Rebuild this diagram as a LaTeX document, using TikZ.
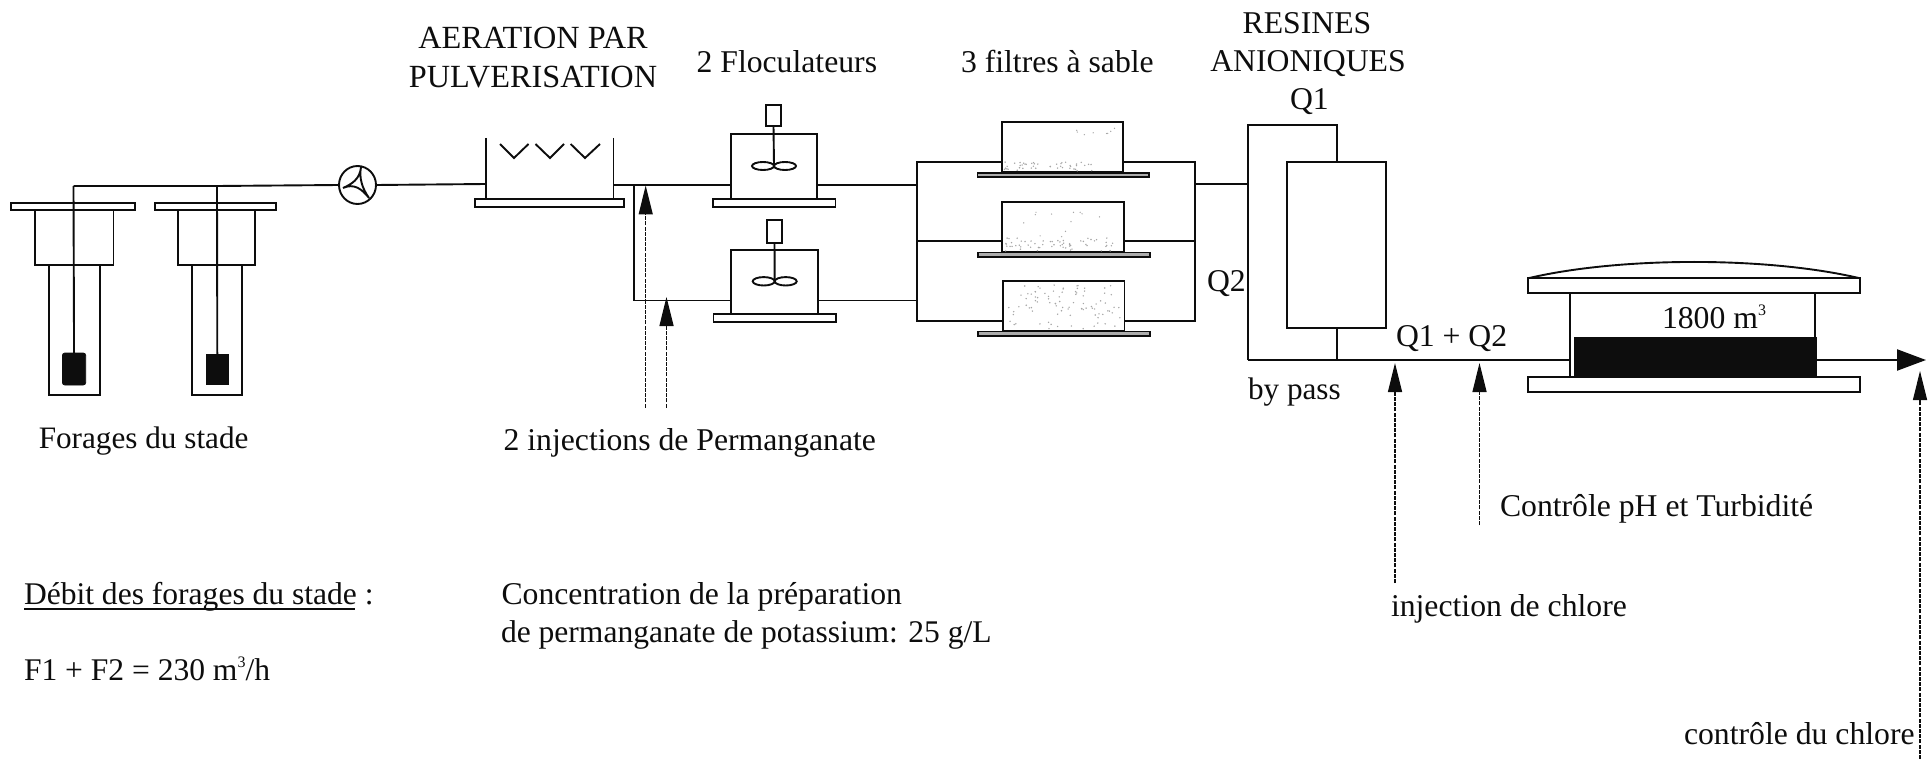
\documentclass[tikz,border=0pt]{standalone}
\usepackage{fontspec}
\setmainfont{Liberation Serif}
\usetikzlibrary{arrows.meta,shapes.geometric,calc}
\definecolor{ink}{gray}{0.05}
\newcommand\cube{\raisebox{12.5pt}{\fontsize{16}{16}\selectfont 3}}
\tikzset{
  eq/.style={draw=ink,rectangle,inner sep=0pt,outer sep=0pt,line width=1.9pt,fill=white},
  thinbase/.style={eq,fill=gray!65},
  solidblock/.style={draw=ink,fill=ink,rectangle,inner sep=0pt,outer sep=0pt,line width=0.8pt},
  roundblock/.style={solidblock,rounded corners=2.5pt},
  pipe/.style={draw=ink,line width=1.9pt,line join=miter},
  dosing/.style={draw=ink,line width=1.3pt,dash pattern=on 4pt off 1.2pt,
    -{Triangle[length=29pt,width=14pt]}},
  outflow/.style={draw=ink,line width=2.3pt,-{Triangle[length=29pt,width=21pt]}},
  lbl/.style={anchor=base west,inner sep=0pt,outer sep=0pt,text=ink,font=\fontsize{31.7}{38}\selectfont},
  lblc/.style={lbl,anchor=base},
  sand/.style={fill=gray!70}
}
\newcommand\bx[6][eq]{\node[#1,minimum width={(#5-#3)*1pt},minimum height={(#6-#4)*1pt}] (#2) at ({(#3+#5)/2},{(#4+#6)/2}) {};}
\begin{document}
\begin{tikzpicture}[x=1pt,y=-1pt]
\useasboundingbox (0,0) rectangle (1930,759);
% coordinates for junctions
\coordinate (w1top) at (73.5,186);
\coordinate (w2top) at (217,186);
\coordinate (aerTL) at (486,138);
\coordinate (aerBL) at (486,199);
\coordinate (aerTR) at (613.5,138);
\coordinate (aerBR) at (613.5,199);
\coordinate (aerIn) at (486,184);
\coordinate (aerOut) at (613.5,185);
\coordinate (split) at (634,185);
\coordinate (splitLow) at (634,300.5);
\coordinate (hdLT) at (917,162.3);
\coordinate (hdLB) at (917,321);
\coordinate (hdRT) at (1195,162.3);
\coordinate (hdRB) at (1195,321);
\coordinate (hdOut) at (1195,183.7);
\coordinate (resTL) at (1248.3,125);
\coordinate (resTR) at (1336.7,125);
\coordinate (resBL) at (1248.3,360);
\coordinate (resBM) at (1336.7,360);
\coordinate (resIn) at (1248.3,183.7);

% wells
\bx[eq]{wa}{49}{265}{99.6}{395}
\bx[eq]{wb}{34.7}{210}{113.5}{265}
\bx[eq]{wc}{11.4}{203}{135}{210}
\bx[roundblock]{wd}{62.4}{353}{85.7}{385}
\bx[eq]{xa}{192}{265}{241.6}{395}
\bx[eq]{xb}{178}{210}{255}{265}
\bx[eq]{xc}{155}{203}{276}{210}
\bx[solidblock]{xd}{206}{354}{228.6}{384}
\draw[pipe] (wd.north) -- (w1top);
\draw[pipe] (xd.north) -- (w2top);
% pump
\node[ellipse,draw=ink,line width=1.9pt,fill=white,inner sep=0pt,outer sep=0pt,minimum width=37pt,minimum height=38pt] (pump) at (357.5,185) {};
\draw[pipe] (361,167) .. controls (360,179) and (352,184) .. (343,188)
   .. controls (354,183) and (362,189) .. (369,198)
   .. controls (362,188) and (359,178) .. (361,167);
\draw[pipe] (w1top) -- (w2top) -- (pump.west);
\draw[pipe] (pump.east) -- (aerIn);
% aeration
\bx[eq]{aerbase}{475}{199}{624}{207}
\draw[pipe] (aerTL) -- (aerBL);
\draw[pipe] (aerTR) -- (aerBR);
\draw[pipe] (500,144) -- (514,158) -- (528.5,144);
\draw[pipe] (535.5,144) -- (550,158) -- (564,144);
\draw[pipe] (570.6,144) -- (585,158) -- (600,144);
% mixers
\bx[eq]{mixa}{730.6}{133.7}{817}{199}
\bx[eq]{mixab}{712.7}{199}{835.5}{207}
\bx[eq]{mota}{766}{104.7}{781}{126}
\bx[eq]{mixb}{731.4}{249.7}{818}{314}
\bx[eq]{mixbb}{713.5}{314}{836}{321.7}
\bx[eq]{motb}{767}{220}{782}{243}
\coordinate (huba) at (774,166);
\coordinate (hubb) at (774.7,281.3);
\draw[pipe] (mota.south) -- (huba);
\draw[pipe] (motb.south) -- (hubb);
\draw[pipe] (763,166) ellipse (11pt and 4pt);
\draw[pipe] (785,166) ellipse (11pt and 4pt);
\draw[pipe] (763.7,281.3) ellipse (11pt and 4.2pt);
\draw[pipe] (785.7,281.3) ellipse (11pt and 4.2pt);
\draw[pipe] (aerOut) -- (split) -- (split -| mixa.west);
\draw[pipe] (split) -- (splitLow) -- (splitLow -| mixb.west);
\draw[pipe] (mixa.east |- split) -- (split -| hdLT);
\draw[pipe] (mixb.east |- splitLow) -- (splitLow -| hdLT);
% filters
\bx[eq]{fa}{1001.6}{122.3}{1123}{172}
\bx[thinbase]{fab}{977.5}{173}{1149}{176.7}
\bx[eq]{fb}{1002}{202}{1123.7}{252.3}
\bx[thinbase]{fbb}{978}{252.5}{1150}{256.7}
\bx[eq]{fc}{1003}{281.3}{1124.5}{330.7}
\bx[thinbase]{fcb}{978}{331.5}{1150}{336}
\draw[pipe] (fa.west |- hdLT) -- (hdLT) -- (hdLB) -- (fc.west |- hdLB);
\draw[pipe] (fa.east |- hdRT) -- (hdRT) -- (hdRB) -- (fc.east |- hdRB);
\draw[pipe] (hdLT |- 0,241.3) -- (fb.west |- 0,241.3);
\draw[pipe] (fb.east |- 0,241.3) -- (hdRT |- 0,241.3);
% sand
\pgfmathsetseed{11}
\foreach \i in {1,...,45}{\fill[sand] ({1004+rnd*90},{162+rnd*9}) circle (0.8pt);}
\foreach \i in {1,...,8}{\fill[sand] ({1065+rnd*50},{128+rnd*8}) circle (0.7pt);}
\foreach \i in {1,...,60}{\fill[sand] ({1005+rnd*115},{238+rnd*13}) circle (0.8pt);}
\foreach \i in {1,...,12}{\fill[sand] ({1020+rnd*100},{212+rnd*25}) circle (0.7pt);}
\foreach \i in {1,...,90}{\fill[sand] ({1006+rnd*115},{285+rnd*44}) circle (0.8pt);}
% resin column
\bx[eq]{res}{1287.3}{162.3}{1386}{327.7}
\draw[pipe] (hdOut) -- (resIn);
\draw[pipe] (resBL) -- (resTL) -- (resTR) -- (res.north -| resTR);
\draw[pipe] (res.south -| resBM) -- (resBM);
% storage
\bx[eq]{cover}{1528}{278.3}{1860}{293}
\bx[eq]{floor}{1528}{377}{1860}{392.3}
\bx[eq]{stor}{1570}{293}{1815}{377}
\bx[solidblock]{water}{1574}{337.7}{1816}{375.7}
\draw[pipe] (cover.north west) .. controls (1620,256.5) and (1768,256.5) .. (cover.north east);
\draw[pipe] (resBL) -- (stor.west |- resBL);
\coordinate (outTip) at (1926,360);
\draw[outflow] (stor.east |- outTip) -- (outTip);
% dosing arrows
\coordinate (pa0) at (645.7,407.5);
\coordinate (pa1) at (645.7,185.5);
\coordinate (pb0) at (666.5,407.5);
\coordinate (pb1) at (666.5,297);
\coordinate (cl0) at (1395,583);
\coordinate (cl1) at (1395,363);
\coordinate (ph0) at (1479.5,525);
\coordinate (ph1) at (1479.5,363);
\coordinate (ck0) at (1920,759);
\coordinate (ck1) at (1920,371);
\draw[dosing] (pa0) -- (pa1);
\draw[dosing] (pb0) -- (pb1);
\draw[dosing] (cl0) -- (cl1);
\draw[dosing] (ph0) -- (ph1);
\draw[dosing] (ck0) -- (ck1);
% labels
\tikzset{f32/.style={font=\fontsize{32.3}{38}\selectfont},f31/.style={font=\fontsize{31.2}{38}\selectfont},f30/.style={font=\fontsize{31.55}{38}\selectfont}}
\node[lblc,f32] (t1) at (533,49) {AERATION PAR};
\node[lblc,f32] (t2) at (533,88) {PULVERISATION};
\node[lbl] (t3) at (696.6,72.5) {2 Floculateurs};
\node[lbl] (t4) at (961,72.5) {3 filtres à sable};
\node[lblc] (t5) at (1307,34) {RESINES};
\node[lblc] (t6) at (1308,71.5) {ANIONIQUES};
\node[lbl] (t7) at (1290,110) {Q1};
\node[lbl] (t8) at (1207,291.5) {Q2};
\node[lbl,f31] (t9) at (1248,399) {by pass};
\node[lbl] (t10) at (1396,346.5) {Q1 + Q2};
\node[lbl] (t11) at (1662,328) {1800 m\cube};
\node[lbl] (t12) at (1500,516) {Contrôle pH et Turbidité};
\node[lbl] (t13) at (1391,616.5) {injection de chlore};
\node[lbl] (t14) at (1684,744.5) {contrôle du chlore};
\node[lbl,f31] (t15) at (38.8,448.5) {Forages du stade};
\node[lbl] (t16) at (503.6,450.5) {2 injections de Permanganate};
\node[lbl,f30] (t17) at (24,604) {\makebox[0pt][l]{\raisebox{-5.5pt}{\rule{331pt}{1.5pt}}}Débit des forages du stade :};
\node[lbl] (t18) at (501.5,604) {Concentration de la préparation};
\node[lbl,f30] (t19) at (501,642) {de permanganate de potassium: 25 g/L};
\node[lbl,f30] (t20) at (24,680) {F1 + F2 = 230 m\cube/h};
\end{tikzpicture}
\end{document}
